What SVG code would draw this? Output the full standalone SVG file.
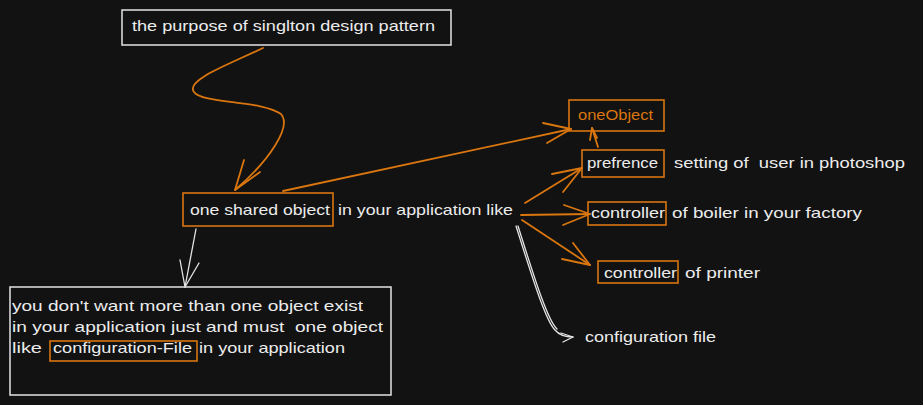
<svg xmlns="http://www.w3.org/2000/svg" width="923" height="405" viewBox="0 0 923 405">
<style>
text{font-family:"Liberation Sans",Arial,sans-serif;font-size:15px;fill:#ececec;white-space:pre}
.o{fill:#d9760f}
.ob{fill:none;stroke:#d9760f;stroke-width:1.6}
.wb{fill:none;stroke:#e4e4e4;stroke-width:1.5}
.ol{fill:none;stroke:#d9760f;stroke-width:1.8;stroke-linecap:round;stroke-linejoin:round}
.wl{fill:none;stroke:#e4e4e4;stroke-width:1.3;stroke-linecap:round;stroke-linejoin:round}
</style>
<rect width="923" height="405" fill="#121212"/>
<g id="title"><rect class="wb" x="122" y="10" width="329" height="35"/><text x="132" y="31" textLength="303" lengthAdjust="spacingAndGlyphs">the purpose of singlton design pattern</text></g>
<g id="shared"><rect class="ob" x="183" y="193" width="150" height="33"/><text x="190" y="215" textLength="140" lengthAdjust="spacingAndGlyphs">one shared object</text><text x="338" y="215" textLength="175" lengthAdjust="spacingAndGlyphs">in your application like</text></g>
<g id="oneObject"><rect class="ob" x="569" y="100" width="95" height="31"/><text class="o" x="578" y="120" textLength="75" lengthAdjust="spacingAndGlyphs">oneObject</text></g>
<g id="prefrence"><rect class="ob" x="582" y="150" width="82" height="27"/><text x="587" y="168" textLength="71" lengthAdjust="spacingAndGlyphs">prefrence</text><text x="674" y="168" textLength="231" lengthAdjust="spacingAndGlyphs" xml:space="preserve">setting of  user in photoshop</text></g>
<g id="controller1"><rect class="ob" x="588" y="202" width="78" height="23"/><text x="591" y="218" textLength="74" lengthAdjust="spacingAndGlyphs">controller</text><text x="672" y="218" textLength="190" lengthAdjust="spacingAndGlyphs">of boiler in your factory</text></g>
<g id="controller2"><rect class="ob" x="598" y="261" width="80" height="22"/><text x="604" y="278" textLength="73" lengthAdjust="spacingAndGlyphs">controller</text><text x="685" y="278" textLength="75" lengthAdjust="spacingAndGlyphs">of printer</text></g>
<g id="configfile"><text x="585" y="342" textLength="131" lengthAdjust="spacingAndGlyphs">configuration file</text></g>
<g id="note"><rect class="wb" x="10" y="287" width="381" height="108"/>
<text x="12" y="311" textLength="351" lengthAdjust="spacingAndGlyphs">you don't want more than one object exist</text>
<text x="12" y="332" textLength="371" lengthAdjust="spacingAndGlyphs" xml:space="preserve">in your application just and must  one object</text>
<text x="12" y="353" textLength="30" lengthAdjust="spacingAndGlyphs">like</text>
<rect class="ob" x="50" y="341" width="147" height="20"/>
<text x="53" y="353" textLength="139" lengthAdjust="spacingAndGlyphs">configuration-File</text>
<text x="199" y="353" textLength="146" lengthAdjust="spacingAndGlyphs">in your application</text></g>
<g id="connectors">
<path class="ol" d="M263 48 C230 64 185 80 194 92 C202 104 262 100 281 114 C292 126 270 160 235 190"/>
<path class="ol" d="M244 160 L235 190 L260 172"/>
<path class="ol" d="M283 191 L571 129"/><path class="ol" d="M543 123 L571 129 L547 143"/>
<path class="ol" d="M598 147 L592 128"/><path class="ol" d="M590 140 L592 128 L597 138"/>
<path class="ol" d="M525 203 L582 168"/><path class="ol" d="M552 174 L582 168 L563 192"/>
<path class="ol" d="M521 215 L590 214"/><path class="ol" d="M564 205 L590 214 L563 225"/>
<path class="ol" d="M522 220 L590 265"/><path class="ol" d="M573 243 L590 265 L562 259"/>
<path class="wl" d="M516 226 C530 270 545 320 555 330 C560 336 566 337 573 337"/>
<path class="wl" d="M518 226 C532 270 547 320 557 329"/>
<path class="wl" d="M561 333 L573 337 L563 342"/>
<path class="wl" d="M196 229 L185 287"/><path class="wl" d="M180 260 L185 287 L199 263"/>
</g>
</svg>
